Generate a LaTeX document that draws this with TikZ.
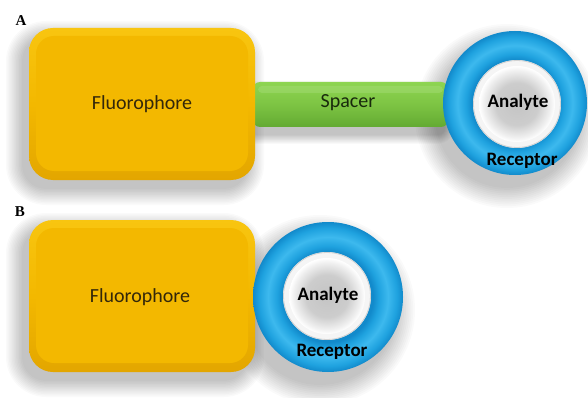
\documentclass[tikz,border=0pt]{standalone}
\usepackage{fontspec}
\setmainfont{Carlito}
\newfontfamily\panelfont{Liberation Serif}

\definecolor{fluoBase}{HTML}{F3B800}
\definecolor{fluoTop}{HTML}{F8C510}
\definecolor{fluoEdge}{HTML}{E3A600}
\definecolor{fluoText}{HTML}{33270A}
\definecolor{spacerBase}{HTML}{7DC443}
\definecolor{spacerLight}{HTML}{8ED552}
\definecolor{spacerEdge}{HTML}{63AA32}
\definecolor{spacerText}{HTML}{18290C}
\definecolor{ringDark}{HTML}{128ACB}
\definecolor{ringMid}{HTML}{1FA2DF}
\definecolor{ringLight}{HTML}{3DB9EE}
\definecolor{bindDark}{HTML}{C4C4C4}
\definecolor{bindLight}{HTML}{F0F0F0}

% band of the receptor ring: dark at both rims, light along its middle
\pgfdeclareradialshading{torusband}{\pgfpoint{0bp}{0bp}}{%
  color(0bp)=(ringDark); color(15bp)=(ringDark); color(17bp)=(ringMid);
  color(20bp)=(ringLight); color(23bp)=(ringMid); color(25bp)=(ringDark);
  color(50bp)=(ringDark)}
% analyte disc: grey centre, pale rim
\pgfdeclareradialshading{analyteball}{\pgfpoint{0bp}{0bp}}{%
  color(0bp)=(bindDark); color(14bp)=(bindDark!85!white);
  color(22bp)=(bindLight); color(25bp)=(white); color(50bp)=(white)}

% soft drop shadow of a rounded rectangle: stacked translucent copies
% #1,#2 = top-left corner, #3,#4 = bottom-right corner, #5 = corner radius,
% #6,#7 = offset, #8 = spread
\newcommand{\softboxshadow}[8]{%
  \foreach \s in {0,1,...,11}{%
    \pgfmathsetmacro{\dd}{#8*\s/11}%
    \pgfmathsetmacro{\rr}{#5+\dd}%
    \fill[black, opacity=0.021, rounded corners=\rr pt]
      ({#1+#6-\dd},{#2+#7-\dd}) rectangle ({#3+#6+\dd},{#4+#7+\dd});
  }}
% soft drop shadow of a disc: #1,#2 = centre, #3 = radius, #4,#5 = offset, #6 = spread
\newcommand{\softdiscshadow}[6]{%
  \foreach \s in {0,1,...,11}{%
    \pgfmathsetmacro{\dd}{#6*\s/11}%
    \fill[black, opacity=0.019] ({#1+#4},{#2+#5}) circle[radius={#3+\dd}];
  }}

\tikzset{
  fluobox/.style={rounded corners=24pt, top color=fluoTop,
      bottom color=fluoEdge, middle color=fluoBase},
  fluoface/.style={rounded corners=18pt, fill=fluoBase},
  spacerbar/.style={rounded corners=7pt, top color=spacerLight,
      bottom color=spacerEdge, middle color=spacerBase},
  fluolabel/.style={font=\fontsize{20}{22}\selectfont, text=fluoText},
  spacerlabel/.style={font=\fontsize{20}{22}\selectfont, text=spacerText},
  bindlabel/.style={font=\bfseries\fontsize{19}{21}\selectfont, text=black},
  panellabel/.style={font=\panelfont\bfseries\fontsize{15}{17}\selectfont, text=black}
}

\begin{document}
\begin{tikzpicture}[x=1pt, y=-1pt]
\useasboundingbox[fill=white] (0,0) rectangle (588,398);

% ---------------- shadows ----------------
\softboxshadow{29}{28}{255}{180}{24}{-7}{9}{16}
\softboxshadow{253}{82}{448}{127}{7}{-3}{8}{9}
\softdiscshadow{515}{103}{72}{-8}{13}{20}
\softboxshadow{29}{220}{255}{372}{24}{-7}{9}{16}
\softdiscshadow{328}{297}{75}{-8}{13}{20}

% ---------------- panel A ----------------
\node[panellabel] (labA) at (21,21) {A};

% spacer bar, tucked under the fluorophore and the receptor
\path[spacerbar] (253,82) rectangle (448,127);
\fill[spacerLight!70!white, opacity=.35, rounded corners=4pt] (258,86) rectangle (443,93);
\node[spacerlabel] (spacer) at (348,103) {Spacer};

% fluorophore block
\path[fluobox] (29,28) rectangle (255,180);
\fill[fluoface] (36,36) rectangle (248,171);
\node[fluolabel] (fluoA) at (142,104) {Fluorophore};

% receptor ring with bound analyte
\shade[shading=torusband] (515,103) circle[radius=72];
\fill[white!92!gray] (517,104) circle[radius=44];
\draw[gray!35, line width=.8pt] (517,104) circle[radius=43.5];
\shade[shading=analyteball] (517,104) circle[radius=38];
\node[bindlabel] (analyteA) at (518,102) {Analyte};
\node[bindlabel] (receptorA) at (522,161) {Receptor};

% ---------------- panel B ----------------
\node[panellabel] (labB) at (20,212) {B};

\path[fluobox] (29,220) rectangle (255,372);
\fill[fluoface] (36,228) rectangle (248,363);
\node[fluolabel] (fluoB) at (140,297) {Fluorophore};

\shade[shading=torusband] (328,297) circle[radius=75];
\fill[white!92!gray] (327,296) circle[radius=44];
\draw[gray!35, line width=.8pt] (327,296) circle[radius=43.5];
\shade[shading=analyteball] (327,296) circle[radius=38];
\node[bindlabel] (analyteB) at (328,295) {Analyte};
\node[bindlabel] (receptorB) at (332,352) {Receptor};
\end{tikzpicture}
\end{document}
